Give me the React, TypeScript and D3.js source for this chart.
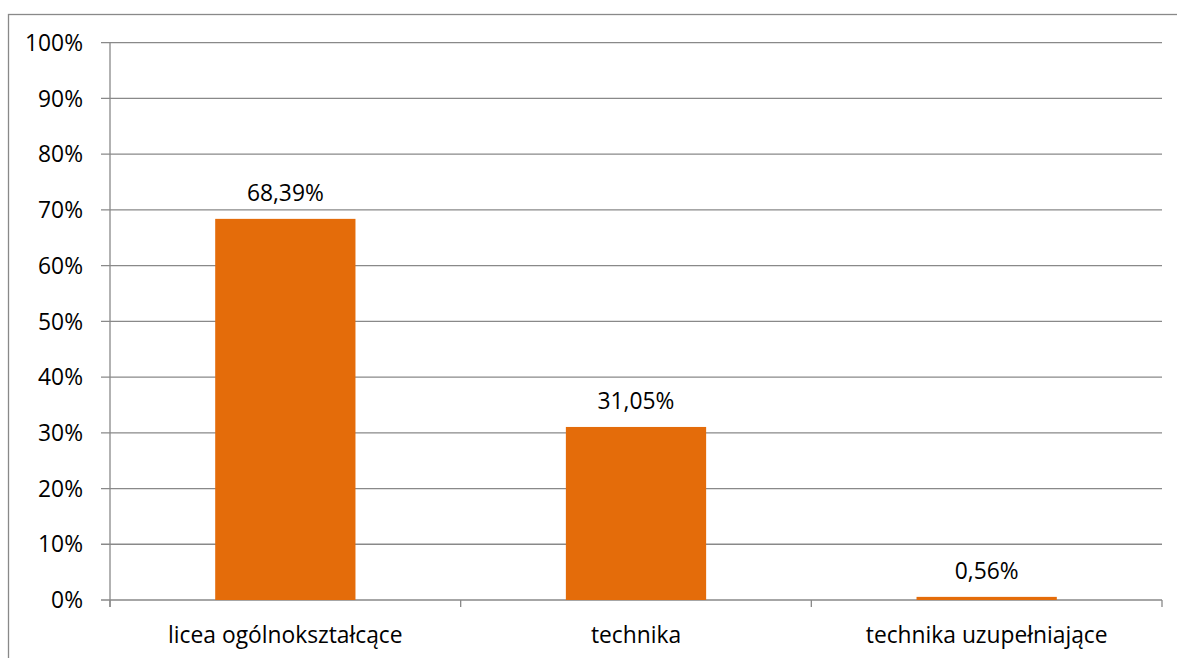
import * as d3 from "d3";

const categories = ["licea ogólnokształcące", "technika", "technika uzupełniające"];
const shares = [68.39, 31.05, 0.56];
const yTicks = [0, 10, 20, 30, 40, 50, 60, 70, 80, 90, 100];

const W = 1177;
const H = 658;
const left = 110;
const right = 1162;
const top = 42.7;
const bottom = 600;
const font = "'Open Sans', 'Liberation Sans', sans-serif";
const grid = "#898989";
const fs = 22.8;

export default function App() {
  const x = d3.scaleBand().domain(categories).range([left, right]).paddingInner(0.6).paddingOuter(0.3);
  const band = d3.scaleBand().domain(categories).range([left, right]);
  const y = d3.scaleLinear().domain([0, 100]).range([bottom, top]);
  const fmt = (v: number) => v.toFixed(2).replace(".", ",") + "%";

  return (
    <>
      <style>{`body{margin:0}`}</style>
      <svg width={W} height={H} style={{ display: "block" }} fontFamily={font}>
        <rect x={8.5} y={14.5} width={W + 10} height={H + 10} fill="#fff" stroke={grid} strokeWidth={1.3} />

        {/* gridlines + y ticks */}
        {yTicks.map((t) => (
          <g key={t}>
            <line x1={left - 9} x2={right} y1={y(t)} y2={y(t)} stroke={grid} strokeWidth={1.3} />
            <text x={83} y={y(t)} dy="0.36em" textAnchor="end" fontSize={fs} fill="#000">
              {t}%
            </text>
          </g>
        ))}
        <line x1={left} x2={left} y1={top} y2={bottom + 7} stroke={grid} strokeWidth={1.3} />

        {/* category boundary ticks */}
        {categories.map((c) => (
          <line key={"t" + c} x1={band(c)!} x2={band(c)!} y1={bottom} y2={bottom + 7} stroke={grid} strokeWidth={1.3} />
        ))}
        <line x1={right} x2={right} y1={bottom} y2={bottom + 7} stroke={grid} strokeWidth={1.3} />

        {categories.map((c, i) => (
          <g key={c}>
            <rect x={x(c)!} y={y(shares[i])} width={x.bandwidth()} height={bottom - y(shares[i])} fill="#E46C0A" />
            <text x={x(c)! + x.bandwidth() / 2} y={y(shares[i]) - 18} textAnchor="middle" fontSize={fs} fill="#000">
              {fmt(shares[i])}
            </text>
            <text x={band(c)! + band.bandwidth() / 2} y={643} textAnchor="middle" fontSize={fs} fill="#000">
              {c}
            </text>
          </g>
        ))}
      </svg>
    </>
  );
}
